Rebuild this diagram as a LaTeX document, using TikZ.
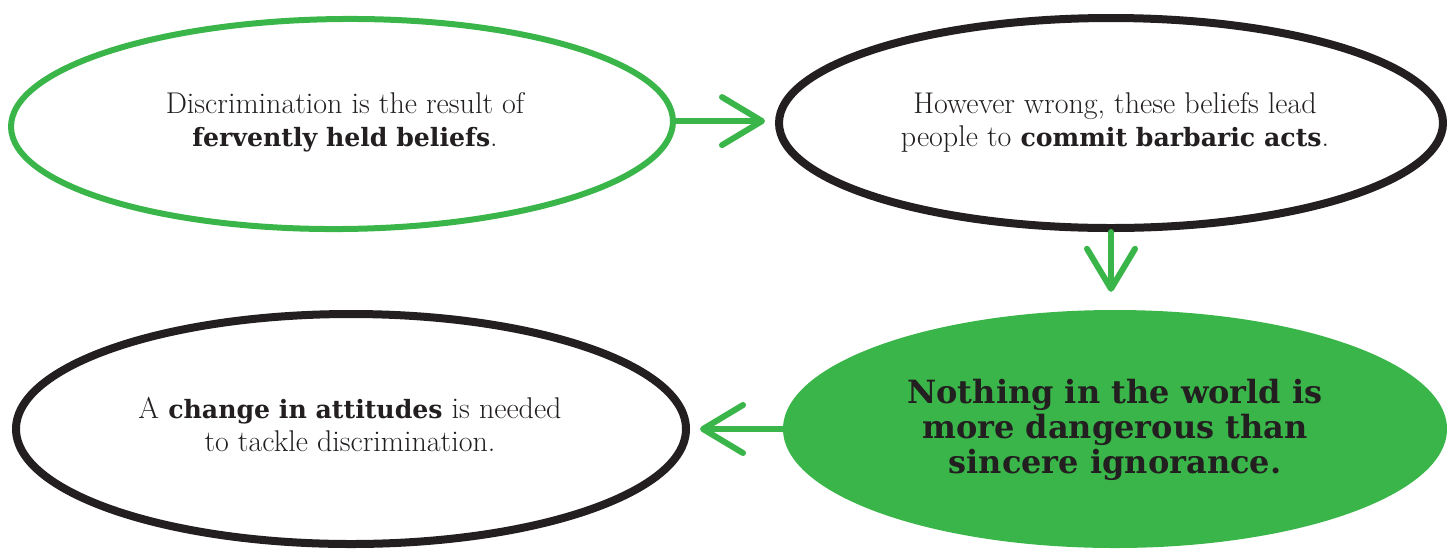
\documentclass[tikz,border=0pt]{standalone}
\usepackage{fontspec}
\usetikzlibrary{shapes.geometric,arrows.meta}
\newfontfamily\slab{DejaVu Serif}
\newfontfamily\slabsmall[Scale=0.84]{DejaVu Serif}
\definecolor{mygreen}{HTML}{3AB54A}
\definecolor{ink}{HTML}{231F20}
\newcommand{\hl}[1]{{\slabsmall\bfseries #1}}
\begin{document}
\begin{tikzpicture}[x=1pt,y=-1pt,
  bubble/.style={ellipse, inner sep=0pt},
  greenring/.style={bubble, draw=mygreen, line width=6pt},
  blackring/.style={bubble, draw=ink, line width=8pt},
  greenfill/.style={bubble, fill=mygreen},
  txt/.style={align=center, text=ink, font=\fontsize{30}{33}\selectfont},
  bigtxt/.style={align=center, text=ink, font=\fontsize{32}{35}\selectfont\slab\bfseries},
  arr/.style={draw=mygreen, line width=6pt, line cap=round,
    -{Straight Barb[length=40pt, width=48pt, line width=6pt, round]}}
]
\useasboundingbox (0,0) rectangle (1447,550);
\node[greenring, minimum width=662pt, minimum height=210pt, rotate=0.5] (tl) at (342,124) {};
\node[blackring, minimum width=664pt, minimum height=210pt] (tr) at (1111,123) {};
\node[blackring, minimum width=670pt, minimum height=230pt] (bl) at (351,429) {};
\node[greenfill, minimum width=664pt, minimum height=238pt] (br) at (1115,429) {};

\node[txt] (tlt) at (345,122) {Discrimination is the result of\\\hl{fervently held beliefs}.};
\node[txt] (trt) at (1115,122) {However wrong, these beliefs lead\\people to \hl{commit barbaric acts}.};
\node[txt] (blt) at (350,425) {A \hl{change in attitudes} is needed\\to tackle discrimination.};
\node[bigtxt] (brt) at (1115,430) {Nothing in the world is\\more dangerous than\\sincere ignorance.};

\draw[arr, shorten >=10pt] (tl.east) -- (tl.east -| tr.west);
\draw[arr, shorten >=18pt] (tr.south) -- (tr.south |- br.north);
\draw[arr, shorten >=10pt] (br.west) -- (br.west -| bl.east);
\end{tikzpicture}
\end{document}
